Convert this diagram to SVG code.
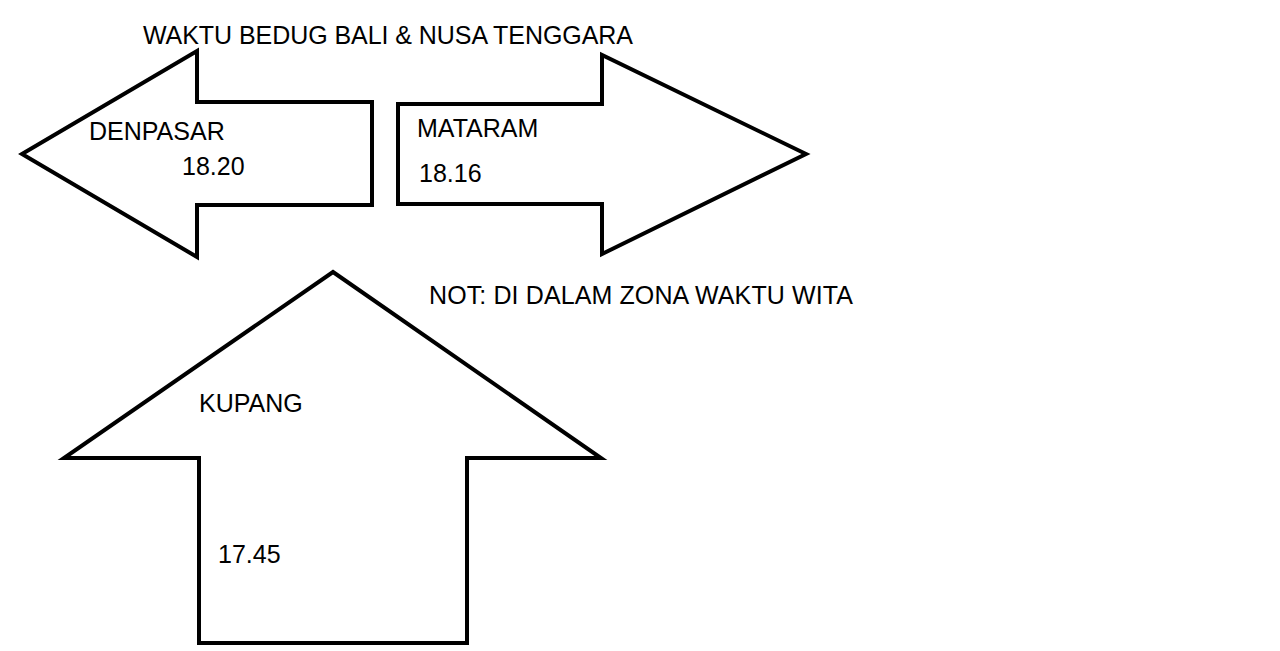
<svg xmlns="http://www.w3.org/2000/svg" width="1280" height="651" viewBox="0 0 1280 651">
<style>
.shape{fill:#fff;stroke:#000;stroke-width:4;stroke-linejoin:miter}
.t{font-family:"Liberation Sans",Arial,sans-serif;font-size:25px;fill:#000}
</style>
<rect width="1280" height="651" fill="#fff"/>
<text class="t" x="143" y="44" textLength="490" lengthAdjust="spacing">WAKTU BEDUG BALI &amp; NUSA TENGGARA</text>
<g id="denpasar">
<polygon class="shape" points="22,154 197,51 197,102 372,102 372,205 197,205 197,257"/>
<text class="t" x="89" y="140">DENPASAR</text>
<text class="t" x="182" y="175">18.20</text>
</g>
<g id="mataram">
<polygon class="shape" points="398,104 602,104 602,55 806,154 602,254 602,204 398,204"/>
<text class="t" x="417" y="137">MATARAM</text>
<text class="t" x="419" y="182">18.16</text>
</g>
<g id="kupang">
<polygon class="shape" points="333,272 601,458 467,458 467,643 199,643 199,458 64,458"/>
<text class="t" x="199" y="412">KUPANG</text>
<text class="t" x="218" y="563">17.45</text>
</g>
<g id="connectors"></g>
<text class="t" x="429" y="304" textLength="424" lengthAdjust="spacing">NOT: DI DALAM ZONA WAKTU WITA</text>
</svg>
